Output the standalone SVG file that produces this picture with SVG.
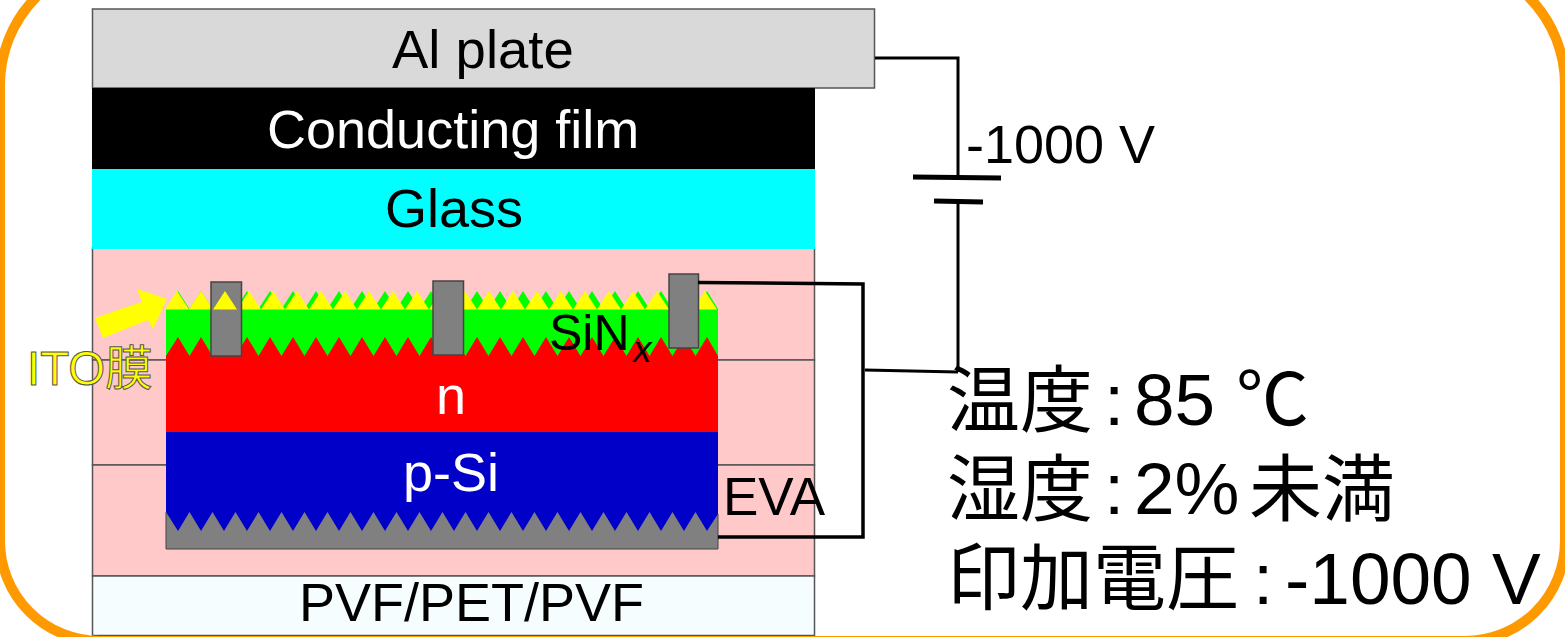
<svg xmlns="http://www.w3.org/2000/svg" width="1565" height="637" viewBox="0 0 1565 637">
<style>
.l{stroke:#555;stroke-width:1.5}
.t{font-family:"Liberation Sans",Arial,sans-serif;font-size:54px;fill:#000}
.w{fill:#fff}
.j{font-family:"Noto Sans CJK JP","Noto Sans",sans-serif;font-size:73px;fill:#000}
.a{font-family:"Liberation Sans",Arial,sans-serif;font-size:73px;fill:#000}
.wire{fill:none;stroke:#000;stroke-width:3}
</style>
<rect width="1565" height="637" fill="#fff"/>
<g id="layer-eva">
<rect class="l" x="92.500" y="248" width="722" height="112" fill="#ffc9c9"/>
<rect class="l" x="92.500" y="360" width="722" height="105" fill="#ffc9c9"/>
<rect class="l" x="92.500" y="465" width="722" height="111" fill="#ffc9c9"/>
<text class="t" x="723" y="515" style="font-size:53px">EVA</text>
</g>
<g id="layer-al"><rect class="l" x="92.500" y="9" width="782" height="79" fill="#d9d9d9"/><text class="t" x="392" y="68" style="font-size:54.500px">Al plate</text></g>
<g id="layer-conducting"><rect x="92" y="88" width="723" height="81" fill="#000"/><text class="t w" x="267" y="148">Conducting film</text></g>
<g id="layer-glass"><rect x="92" y="169" width="723" height="80" fill="#00ffff"/><text class="t" x="385" y="227">Glass</text></g>
<g id="layer-pvf"><rect class="l" x="92.500" y="576" width="722" height="59.500" fill="#f5fdff"/><text class="t" x="299" y="621">PVF/PET/PVF</text></g>
<path id="frame" d="M0 85A125 125 0 0 1 125 -40H1440A125 125 0 0 1 1565 85V541A100 100 0 0 1 1465 641H100A100 100 0 0 1 0 541Z" fill="none" stroke="#ff9900" stroke-width="10"/>
<g id="layer-sinx">
<path fill="#00ff00" d="M166 310V309L178 291L189.500 309L201 291L212.500 309L224 291L235.500 309L247 291L258.500 309L270 291L281.500 309L293 291L304.500 309L316 291L327.500 309L339 291L350.500 309L362 291L373.500 309L385 291L396.500 309L408 291L419.500 309L431 291L442.500 309L454 291L465.500 309L477 291L488.500 309L500 291L511.500 309L523 291L534.500 309L546 291L557.500 309L569 291L580.500 309L592 291L603.500 309L615 291L626.500 309L638 291L649.500 309L661 291L672.500 309L684 291L695.500 309L707 291L718 309V360H166Z"/>
</g>
<g id="layer-ito">
<path fill="#ffff00" d="M165 309.500L177 291L189 309.500L201 291L213 309.500L225 291L237 309.500L249 291L261 309.500L273 291L285 309.500L297 291L309 309.500L321 291L333 309.500L345 291L357 309.500L369 291L381 309.500L393 291L405 309.500L417 291L429 309.500L441 291L453 309.500L465 291L477 309.500L489 291L501 309.500L513 291L525 309.500L537 291L549 309.500L561 291L573 309.500L585 291L597 309.500L609 291L621 309.500L633 291L645 309.500L657 291L669 309.500L681 291L693 309.500L705 291L717 309.500Z"/>
</g>
<g id="layer-n">
<path fill="#ff0000" d="M166 356L178 337L189.500 356L201 337L212.500 356L224 337L235.500 356L247 337L258.500 356L270 337L281.500 356L293 337L304.500 356L316 337L327.500 356L339 337L350.500 356L362 337L373.500 356L385 337L396.500 356L408 337L419.500 356L431 337L442.500 356L454 337L465.500 356L477 337L488.500 356L500 337L511.500 356L523 337L534.500 356L546 337L557.500 356L569 337L580.500 356L592 337L603.500 356L615 337L626.500 356L638 337L649.500 356L661 337L672.500 356L684 337L695.500 356L707 337L718 356V433H166Z"/>
<text class="t w" x="436" y="414">n</text>
</g>
<g id="layer-psi">
<rect x="166" y="432" width="552" height="100" fill="#0000c8"/>
<text class="t w" x="403" y="491">p-Si</text>
</g>
<g id="layer-back">
<path fill="#808080" d="M166 512L178 531L189.500 512L201 531L212.500 512L224 531L235.500 512L247 531L258.500 512L270 531L281.500 512L293 531L304.500 512L316 531L327.500 512L339 531L350.500 512L362 531L373.500 512L385 531L396.500 512L408 531L419.500 512L431 531L442.500 512L454 531L465.500 512L477 531L488.500 512L500 531L511.500 512L523 531L534.500 512L546 531L557.500 512L569 531L580.500 512L592 531L603.500 512L615 531L626.500 512L638 531L649.500 512L661 531L672.500 512L684 531L695.500 512L707 531L718 514V549H166Z"/>
<path d="M166 512V549H718V514" fill="none" stroke="#444" stroke-width="1"/>
</g>
<g id="electrodes" fill="#808080" stroke="#444" stroke-width="1.500">
<rect x="211" y="282" width="30.500" height="74"/>
<rect x="433" y="281" width="30.500" height="74"/>
<rect x="669" y="274" width="29.500" height="74"/>
</g>
<path fill="#ffff00" d="M213 309.500L225 291L237 309.500Z"/>
<g id="label-sinx"><text class="t" x="549" y="350" style="font-size:50px">SiN</text><text x="633" y="362" font-family="Liberation Sans" font-style="italic" font-size="37">x</text></g>
<g id="connectors">
<path class="wire" d="M875 58H958V177"/>
<path class="wire" d="M958 202V372"/>
<path class="wire" d="M865 370L958 372"/>
<path class="wire" style="stroke-width:3.500" d="M698 282.500L863 284V537H718"/>
<path d="M913 177L1001 178" stroke="#000" stroke-width="5" fill="none"/>
<path d="M934 201L983 202" stroke="#000" stroke-width="5" fill="none"/>
</g>
<text class="t" x="966" y="163">-1000 V</text>
<g id="ito-label">
<path fill="#ffff00" d="M95 318L142 302L137 289L167 299L153 329L148 320L103 338Z"/>
<text x="27" y="385" font-family="Liberation Sans,Noto Sans CJK JP,sans-serif" font-size="47.500" fill="#ffff00" stroke="#555" stroke-width="1">ITO膜</text>
</g>
<g id="conditions">
<text class="j" x="947" y="426">温度</text><text class="a" x="1104" y="425">:</text><text class="a" x="1134" y="425">85</text><text class="j" x="1236" y="425">℃</text>
<text class="j" x="947" y="515">湿度</text><text class="a" x="1104" y="514">:</text><text class="a" x="1134" y="514">2%</text><text class="j" x="1249" y="515">未満</text>
<text class="j" x="947" y="604">印加電圧</text><text class="a" x="1253" y="604">:</text><text class="a" x="1285" y="604">-1000 V</text>
</g>
</svg>
